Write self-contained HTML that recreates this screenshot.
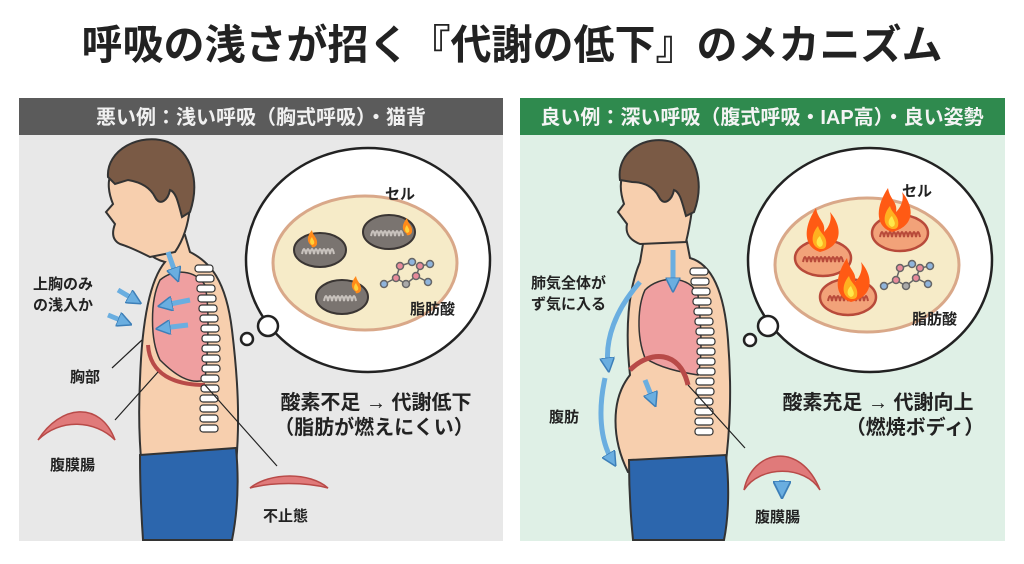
<!DOCTYPE html>
<html><head><meta charset="utf-8"><style>
body{margin:0;width:1024px;height:559px;background:#fff;overflow:hidden;font-family:"Liberation Sans","Noto Sans CJK JP",sans-serif}
svg text{font-family:"Liberation Sans","Noto Sans CJK JP",sans-serif;font-weight:bold;fill:#222}
</style></head><body>
<svg width="1024" height="559" viewBox="0 0 1024 559">
<defs>
<marker id="ah" viewBox="0 0 10 10" refX="5" refY="5" markerWidth="3" markerHeight="3" orient="auto"><path d="M0,0L10,5L0,10z" fill="#6aaee0" stroke="#3d7fb8"/></marker>
<g id="flameS"><path d="M0,0 C-6,-4 -5,-10 0,-16 C1,-10 6,-8 5,-2 C4,2 -2,2 0,0z" fill="#ff8a1a"/><path d="M0,-1 C-3,-3 -2,-7 0,-9 C1,-6 3,-5 2,-2z" fill="#ffd23a"/></g>
<g id="flameL"><path d="M0,0 C-18,-6 -16,-26 -4,-44 C-2,-32 6,-30 4,-20 C10,-26 12,-34 10,-40 C22,-26 24,-6 0,0z" fill="#ff5a14"/><path d="M0,-3 C-10,-6 -9,-18 -2,-26 C0,-18 8,-16 6,-6 C5,-3 3,-3 0,-3z" fill="#ffb020"/><path d="M0,-5 C-5,-7 -4,-13 0,-16 C2,-11 4,-9 2,-6z" fill="#ffe84a"/></g>
<g id="mitoG"><ellipse rx="26" ry="17" fill="#7a7470" stroke="#3a3533" stroke-width="2"/><path d="M-18,4 q2,-10 4,0 q2,-10 4,0 q2,-10 4,0 q2,-10 4,0 q2,-10 4,0 q2,-10 4,0 q2,-10 4,0 q2,-10 4,0" fill="none" stroke="#c8c2bd" stroke-width="2"/></g>
<g id="mitoR"><ellipse rx="28" ry="18" fill="#f2a279" stroke="#b84a3a" stroke-width="2.5"/><path d="M-20,4 q2,-10 4,0 q2,-10 4,0 q2,-10 4,0 q2,-10 4,0 q2,-10 4,0 q2,-10 4,0 q2,-10 4,0 q2,-10 4,0 q2,-10 4,0 q2,-10 4,0" fill="none" stroke="#b84a3a" stroke-width="2"/></g>
<g id="mol" stroke="#666" stroke-width="1.5"><path d="M0,22 L12,16 L22,22 L32,14 L44,20 M12,16 L16,4 L28,0 M32,14 L36,4 L46,2" fill="none"/><circle cx="0" cy="22" r="3.5" fill="#8fb4dc"/><circle cx="12" cy="16" r="3.5" fill="#e88a9a"/><circle cx="22" cy="22" r="3.5" fill="#aaa"/><circle cx="32" cy="14" r="3.5" fill="#e88a9a"/><circle cx="44" cy="20" r="3.5" fill="#8fb4dc"/><circle cx="16" cy="4" r="3.5" fill="#e88a9a"/><circle cx="28" cy="0" r="3.5" fill="#8fb4dc"/><circle cx="36" cy="4" r="3.5" fill="#e88a9a"/><circle cx="46" cy="2" r="3.5" fill="#8fb4dc"/></g>
<g id="spine"><g fill="#fff" stroke="#333" stroke-width="1.2">
<rect x="0" y="0" width="18" height="7" rx="3"/><rect x="1" y="10" width="18" height="7" rx="3"/><rect x="2" y="20" width="18" height="7" rx="3"/><rect x="3" y="30" width="18" height="7" rx="3"/><rect x="4" y="40" width="18" height="7" rx="3"/><rect x="5" y="50" width="18" height="7" rx="3"/><rect x="6" y="60" width="18" height="7" rx="3"/><rect x="7" y="70" width="18" height="7" rx="3"/><rect x="7" y="80" width="18" height="7" rx="3"/><rect x="7" y="90" width="18" height="7" rx="3"/><rect x="7" y="100" width="18" height="7" rx="3"/><rect x="6" y="110" width="18" height="7" rx="3"/><rect x="6" y="120" width="18" height="7" rx="3"/><rect x="5" y="130" width="18" height="7" rx="3"/><rect x="5" y="140" width="18" height="7" rx="3"/><rect x="5" y="150" width="18" height="7" rx="3"/><rect x="5" y="160" width="18" height="7" rx="3"/></g></g>
</defs>
<text x="512" y="59" font-size="41" text-anchor="middle" fill="#111">呼吸の浅さが招く『代謝の低下』のメカニズム</text>

<!-- LEFT PANEL -->
<rect x="19" y="98" width="484" height="443" fill="#e8e8e8"/>
<rect x="19" y="98" width="484" height="37" fill="#5b5b5b"/>
<text x="261" y="124" font-size="20" text-anchor="middle" style="fill:#f0f0f0">悪い例：浅い呼吸（胸式呼吸）・猫背</text>
<path d="M150,235 C140,248 150,258 165,262 C150,280 142,320 140,380 C138,420 140,450 142,470 L236,465 C240,420 238,380 232,330 C226,280 210,262 190,252 L185,235z" fill="#f7cfae" stroke="#333" stroke-width="2"/>
<path d="M140,455 L236,448 C240,490 236,520 232,540 L143,540 C141,510 140,480 140,455z" fill="#2c66ad" stroke="#333" stroke-width="2"/>
<g transform="translate(0,12)">
<path d="M110,165 C110,145 140,128 165,140 C185,150 192,170 190,195 C188,215 182,230 175,240 L150,245 C140,240 130,235 120,232 C112,228 112,220 115,212 L106,200 L113,192 C108,180 108,170 110,165z" fill="#f7cfae" stroke="#333" stroke-width="2"/>
<path d="M108,165 C106,138 140,120 168,130 C192,140 200,170 190,200 L182,205 C178,190 176,180 170,178 C168,188 160,195 155,185 C150,175 140,170 128,168 L115,172z" fill="#7a5a45" stroke="#333" stroke-width="2"/>
</g>
<path d="M160,280 C175,268 195,270 205,285 C210,310 208,350 205,380 C190,385 175,375 160,360 C150,340 150,300 160,280z" fill="#ef9fa0" stroke="#333" stroke-width="1.5"/>
<path d="M148,345 C150,375 175,385 205,385" fill="none" stroke="#b84a48" stroke-width="4"/>
<use href="#spine" x="195" y="265"/>
<g stroke="#6aaee0" stroke-width="5" fill="none" marker-end="url(#ah)">
<path d="M168,252 L176,275"/><path d="M118,290 L135,300"/><path d="M108,315 L125,322"/><path d="M190,300 L165,305"/><path d="M188,325 L163,328"/></g>
<g stroke="#222" stroke-width="1.2"><line x1="142" y1="340" x2="112" y2="368"/><line x1="158" y1="372" x2="115" y2="420"/><line x1="205" y1="385" x2="277" y2="466"/></g>
<path d="M38,440 C60,405 100,400 115,440 C95,420 60,418 38,440z" fill="#e07a7a" stroke="#b84a48" stroke-width="1.5"/>
<path d="M250,488 C270,472 310,472 328,488 C305,482 272,482 250,488z" fill="#e07a7a" stroke="#b84a48" stroke-width="1.5"/>
<text x="33" y="289" font-size="15">上胸のみ</text><text x="33" y="310" font-size="15">の浅入か</text>
<text x="70" y="382" font-size="15">胸部</text><text x="50" y="470" font-size="15">腹膜腸</text><text x="263" y="521" font-size="15">不止態</text>
<ellipse cx="368" cy="260" rx="122" ry="112" fill="#fff" stroke="#222" stroke-width="2.5"/>
<circle cx="268" cy="326" r="10" fill="#fff" stroke="#222" stroke-width="2.5"/><circle cx="247" cy="339" r="6" fill="#fff" stroke="#222" stroke-width="2.5"/>
<ellipse cx="365" cy="263" rx="92" ry="67" fill="#f6ebc8" stroke="#d9a889" stroke-width="3"/>
<text x="400" y="199" font-size="15" text-anchor="middle">セル</text>
<use href="#mitoG" x="320" y="250"/><use href="#mitoG" x="389" y="232"/><use href="#mitoG" x="342" y="297"/>
<use href="#flameS" x="312" y="246"/><use href="#flameS" x="407" y="234"/><use href="#flameS" x="356" y="292"/>
<use href="#mol" x="384" y="262"/>
<text x="410" y="314" font-size="15">脂肪酸</text>
<text x="376" y="409" font-size="20" text-anchor="middle">酸素不足 → 代謝低下</text>
<text x="374" y="434" font-size="20" text-anchor="middle">（脂肪が燃えにくい）</text>

<!-- RIGHT PANEL -->
<rect x="520" y="98" width="485" height="443" fill="#dff0e6"/>
<rect x="520" y="98" width="485" height="37" fill="#2f8a4e"/>
<text x="762" y="124" font-size="20" text-anchor="middle" style="fill:#f4f4f4">良い例：深い呼吸（腹式呼吸・IAP高）・良い姿勢</text>
<path d="M645,232 L685,232 L690,258 C715,265 725,300 728,340 C732,390 730,430 725,470 L628,472 C612,440 610,400 630,375 C625,330 628,290 640,262z" fill="#f7cfae" stroke="#333" stroke-width="2"/>
<path d="M629,460 L726,455 C730,490 728,520 724,540 L633,540 C630,510 629,480 629,460z" fill="#2c66ad" stroke="#333" stroke-width="2"/>
<g transform="translate(0,12)">
<path d="M622,165 C620,145 645,130 670,140 C690,150 696,172 692,198 C690,212 688,222 686,230 L640,232 C630,228 625,222 627,212 L618,200 L624,192 C620,180 620,172 622,165z" fill="#f7cfae" stroke="#333" stroke-width="2"/>
<path d="M620,168 C616,140 645,122 672,130 C696,140 705,170 694,200 L686,204 C682,190 680,180 674,178 C672,188 664,195 659,185 C654,175 644,170 632,170z" fill="#7a5a45" stroke="#333" stroke-width="2"/>
</g>
<path d="M645,290 C660,275 690,275 698,295 C702,330 702,360 698,375 C680,372 660,368 645,358 C636,335 638,305 645,290z" fill="#ef9fa0" stroke="#333" stroke-width="1.5"/>
<path d="M630,370 C650,350 680,350 688,385" fill="none" stroke="#b84a48" stroke-width="5"/>
<use href="#spine" x="690" y="268"/>
<g stroke="#6aaee0" stroke-width="5" fill="none" marker-end="url(#ah)">
<path d="M673,250 L673,285"/><path d="M645,380 L653,400"/><path d="M640,282 C615,310 605,340 608,365"/><path d="M605,378 C598,410 600,440 612,460"/></g>
<line x1="688" y1="385" x2="745" y2="448" stroke="#222" stroke-width="1.2"/>
<line x1="925" y1="288" x2="932" y2="302" stroke="#222" stroke-width="1.2"/>
<path d="M744,490 C752,450 800,440 820,490 C805,465 760,465 744,490z" fill="#e07a7a" stroke="#b84a48" stroke-width="1.5"/>
<path d="M782,480 L782,490" stroke="#6aaee0" stroke-width="6" marker-end="url(#ah)"/>
<text x="531" y="288" font-size="15">肺気全体が</text><text x="531" y="309" font-size="15">ず気に入る</text>
<text x="549" y="422" font-size="15">腹肪</text><text x="755" y="522" font-size="15">腹膜腸</text>
<ellipse cx="870" cy="260" rx="122" ry="112" fill="#fff" stroke="#222" stroke-width="2.5"/>
<circle cx="768" cy="326" r="10" fill="#fff" stroke="#222" stroke-width="2.5"/><circle cx="750" cy="340" r="6" fill="#fff" stroke="#222" stroke-width="2.5"/>
<ellipse cx="867" cy="265" rx="92" ry="67" fill="#f6ebc8" stroke="#d9a889" stroke-width="3"/>
<text x="917" y="196" font-size="15" text-anchor="middle">セル</text>
<use href="#mitoR" x="823" y="258"/><use href="#mitoR" x="900" y="233"/><use href="#mitoR" x="848" y="297"/>
<use href="#flameL" x="820" y="252"/><use href="#flameL" x="892" y="232"/><use href="#flameL" x="851" y="302"/>
<use href="#mol" x="884" y="264"/>
<text x="912" y="324" font-size="15">脂肪酸</text>
<text x="878" y="409" font-size="20" text-anchor="middle">酸素充足 → 代謝向上</text>
<text x="915" y="434" font-size="20" text-anchor="middle">（燃焼ボディ）</text>
</svg>
</body></html>
